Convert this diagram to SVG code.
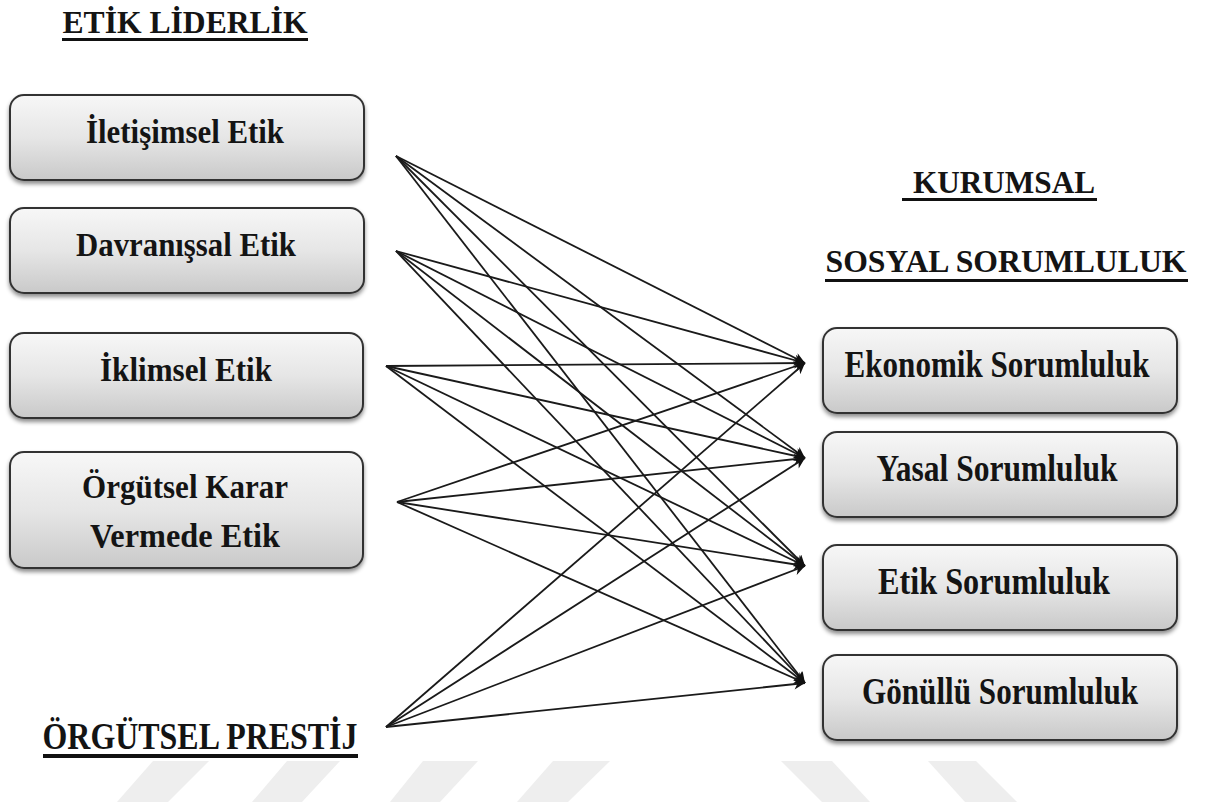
<svg xmlns="http://www.w3.org/2000/svg" width="1205" height="802" viewBox="0 0 1205 802">
  <style>
    .box { stroke: #333; stroke-width: 2; fill: url(#g); filter: url(#sh); }
    .t { font-family: "Liberation Serif", "Times New Roman", "DejaVu Serif", serif; font-weight: bold; fill: #141414; text-anchor: middle; }
    .bt { font-size: 31px; }
    .rt { font-size: 31px; }
    .ttl { font-size: 31px; }
    .ul { fill: #111; }
    .wm { fill: #eeeeee; }
    .c line { stroke: #1a1a1a; stroke-width: 1.8; marker-end: url(#ah); }
  </style>
  <defs>
    <linearGradient id="g" x1="0" y1="0" x2="0" y2="1">
      <stop offset="0" stop-color="#f7f7f7"/>
      <stop offset="0.5" stop-color="#e6e6e6"/>
      <stop offset="1" stop-color="#c9c9c9"/>
    </linearGradient>
    <filter id="sh" x="-5%" y="-10%" width="110%" height="130%">
      <feDropShadow dx="0" dy="3" stdDeviation="2" flood-color="#000" flood-opacity="0.45"/>
    </filter>
    <marker id="ah" viewBox="0 0 10 10" refX="10" refY="5" markerWidth="15" markerHeight="11" markerUnits="userSpaceOnUse" orient="auto">
      <path d="M0,0 L10,5 L0,10 L3,5 z" fill="#111"/>
    </marker>
  </defs>
  <rect width="1205" height="802" fill="#ffffff"/>

  <g id="watermark">
    <polygon class="wm" points="153,761 209,761 168,802 117,802"/>
    <polygon class="wm" points="287,761 340,761 302,802 252,802"/>
    <polygon class="wm" points="423,761 478,761 440,802 390,802"/>
    <polygon class="wm" points="553,761 610,761 568,802 517,802"/>
    <polygon class="wm" points="781,761 832,761 870,802 822,802"/>
    <polygon class="wm" points="928,761 976,761 1017,802 965,802"/>
  </g>

  <g id="title-etik-liderlik">
    <text class="t ttl" x="185" y="33" textLength="245" lengthAdjust="spacingAndGlyphs">ETİK LİDERLİK</text>
    <rect class="ul" x="62" y="38" width="246" height="3"/>
  </g>
  <g id="title-kurumsal">
    <text class="t ttl" x="1004" y="193" textLength="182" lengthAdjust="spacingAndGlyphs">KURUMSAL</text>
    <rect class="ul" x="902" y="198" width="195" height="3"/>
  </g>
  <g id="title-sosyal-sorumluluk">
    <text class="t ttl" x="1006" y="272" textLength="361" lengthAdjust="spacingAndGlyphs">SOSYAL SORUMLULUK</text>
    <rect class="ul" x="825" y="279" width="363" height="3"/>
  </g>
  <g id="title-orgutsel-prestij">
    <text class="t ttl" transform="translate(200,749) scale(1,1.22)" x="0" y="0" textLength="315" lengthAdjust="spacingAndGlyphs">ÖRGÜTSEL PRESTİJ</text>
    <rect class="ul" x="43" y="754" width="315" height="4"/>
  </g>

  <g id="node-iletisimsel">
    <rect class="box" x="10" y="95" width="354" height="85" rx="14"/>
    <text class="t bt" transform="translate(185,143) scale(1,1.06)" x="0" y="0" textLength="198" lengthAdjust="spacingAndGlyphs">İletişimsel Etik</text>
  </g>
  <g id="node-davranissal">
    <rect class="box" x="10" y="208" width="354" height="85" rx="14"/>
    <text class="t bt" transform="translate(186,256) scale(1,1.06)" x="0" y="0" textLength="220" lengthAdjust="spacingAndGlyphs">Davranışsal Etik</text>
  </g>
  <g id="node-iklimsel">
    <rect class="box" x="10" y="333" width="353" height="85" rx="14"/>
    <text class="t bt" transform="translate(186,381) scale(1,1.06)" x="0" y="0" textLength="172" lengthAdjust="spacingAndGlyphs">İklimsel Etik</text>
  </g>
  <g id="node-orgutsel-karar">
    <rect class="box" x="10" y="452" width="353" height="116" rx="14"/>
    <text class="t bt" transform="translate(185,498) scale(1,1.06)" x="0" y="0" textLength="206" lengthAdjust="spacingAndGlyphs">Örgütsel Karar</text>
    <text class="t bt" transform="translate(185,547) scale(1,1.06)" x="0" y="0" textLength="190" lengthAdjust="spacingAndGlyphs">Vermede Etik</text>
  </g>

  <g id="node-ekonomik">
    <rect class="box" x="823" y="328" width="354" height="85" rx="14"/>
    <text class="t rt" transform="translate(997,377) scale(1,1.22)" x="0" y="0" textLength="305" lengthAdjust="spacingAndGlyphs">Ekonomik Sorumluluk</text>
  </g>
  <g id="node-yasal">
    <rect class="box" x="823" y="432" width="354" height="85" rx="14"/>
    <text class="t rt" transform="translate(997,481) scale(1,1.22)" x="0" y="0" textLength="241" lengthAdjust="spacingAndGlyphs">Yasal Sorumluluk</text>
  </g>
  <g id="node-etik">
    <rect class="box" x="823" y="545" width="354" height="85" rx="14"/>
    <text class="t rt" transform="translate(994,594) scale(1,1.22)" x="0" y="0" textLength="232" lengthAdjust="spacingAndGlyphs">Etik Sorumluluk</text>
  </g>
  <g id="node-gonullu">
    <rect class="box" x="823" y="655" width="354" height="85" rx="14"/>
    <text class="t rt" transform="translate(1000,704) scale(1,1.22)" x="0" y="0" textLength="276" lengthAdjust="spacingAndGlyphs">Gönüllü Sorumluluk</text>
  </g>

  <g id="connectors" class="c">
    <line x1="396" y1="156" x2="805" y2="363"/>
    <line x1="396" y1="156" x2="805" y2="458"/>
    <line x1="396" y1="156" x2="805" y2="566"/>
    <line x1="396" y1="156" x2="805" y2="683"/>

    <line x1="396" y1="251" x2="805" y2="363"/>
    <line x1="396" y1="251" x2="805" y2="458"/>
    <line x1="396" y1="251" x2="805" y2="566"/>
    <line x1="396" y1="251" x2="805" y2="683"/>

    <line x1="386" y1="366" x2="805" y2="363"/>
    <line x1="386" y1="366" x2="805" y2="458"/>
    <line x1="386" y1="366" x2="805" y2="566"/>
    <line x1="386" y1="366" x2="805" y2="683"/>

    <line x1="397" y1="502" x2="805" y2="363"/>
    <line x1="397" y1="502" x2="805" y2="458"/>
    <line x1="397" y1="502" x2="805" y2="566"/>
    <line x1="397" y1="502" x2="805" y2="683"/>

    <line x1="386" y1="727" x2="805" y2="363"/>
    <line x1="386" y1="727" x2="805" y2="458"/>
    <line x1="386" y1="727" x2="805" y2="566"/>
    <line x1="386" y1="727" x2="805" y2="683"/>
  </g>
</svg>
